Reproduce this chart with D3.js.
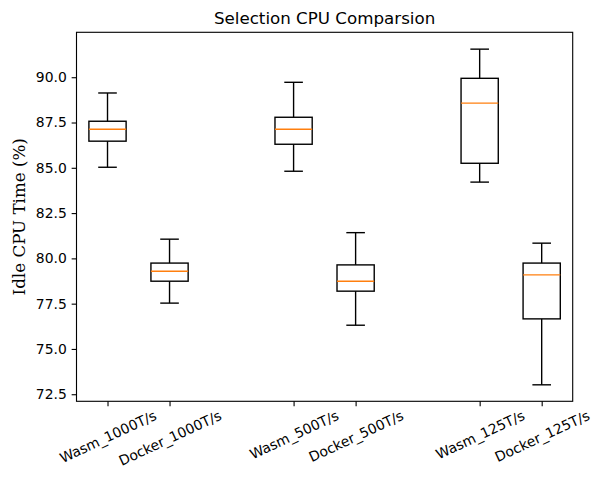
<!DOCTYPE html>
<html><head><meta charset="utf-8">
<script src="https://cdn.jsdelivr.net/npm/d3@7"></script>
<style>body{margin:0;background:#fff}svg{display:block}</style>
</head><body>
<svg id="chart" width="600" height="481"></svg>
<script>
const categories = ["Wasm_1000T/s","Docker_1000T/s","Wasm_500T/s","Docker_500T/s","Wasm_125T/s","Docker_125T/s"];
const positions = [1, 1.5, 2.5, 3, 4, 4.5];
const whiskerLow  = [85.03, 77.53, 84.81, 76.31, 84.21, 73.02];
const q1          = [86.47, 78.74, 86.30, 78.19, 85.25, 76.66];
const median      = [87.13, 79.29, 87.13, 78.74, 88.57, 79.09];
const q3          = [87.57, 79.74, 87.79, 79.64, 89.94, 79.74];
const whiskerHigh = [89.13, 81.06, 89.72, 81.42, 91.55, 80.84];
const yTicks = [72.5, 75.0, 77.5, 80.0, 82.5, 85.0, 87.5, 90.0];
const boxWidth = 0.3;

const svg = d3.select("#chart");
const L = 76.5, R = 572.7, T = 32.3, B = 401.3;
const x = d3.scaleLinear().domain([0.75, 4.75]).range([L, R]);
const y = d3.scaleLinear().domain([72.11, 92.48]).range([B, T]);
const tickLen = 4.86, pad = 4.86;
const sans = "DejaVu Sans, sans-serif";

const data = categories.map((c,i)=>({c, p:positions[i], lo:whiskerLow[i], q1:q1[i], med:median[i], q3:q3[i], hi:whiskerHigh[i]}));

const g = svg.append("g");
data.forEach(d=>{
  const cx = x(d.p), hw = x(d.p + boxWidth/2) - cx, cw = hw/2;
  const s = (x1,y1,x2,y2,col)=>g.append("line").attr("x1",x1).attr("y1",y1).attr("x2",x2).attr("y2",y2)
      .attr("stroke",col||"#000").attr("stroke-width",1.39).attr("stroke-linecap","butt");
  s(cx, y(d.q3), cx, y(d.hi));
  s(cx, y(d.q1), cx, y(d.lo));
  s(cx-cw, y(d.hi), cx+cw, y(d.hi));
  s(cx-cw, y(d.lo), cx+cw, y(d.lo));
  g.append("rect").attr("x",cx-hw).attr("y",y(d.q3)).attr("width",2*hw).attr("height",y(d.q1)-y(d.q3))
    .attr("fill","none").attr("stroke","#000").attr("stroke-width",1.39);
  s(cx-hw, y(d.med), cx+hw, y(d.med), "#ff7f0e");
});

svg.append("rect").attr("x",L).attr("y",T).attr("width",R-L).attr("height",B-T)
  .attr("fill","none").attr("stroke","#000").attr("stroke-width",1.11);

const yAxis = d3.axisLeft(y).tickValues(yTicks).tickFormat(d3.format(".1f")).tickSize(tickLen).tickPadding(pad);
const ya = svg.append("g").attr("transform",`translate(${L},0)`).call(yAxis);
ya.select(".domain").remove();
ya.selectAll(".tick line").attr("stroke","#000").attr("stroke-width",1.11);
ya.selectAll(".tick text").attr("font-family",sans).attr("font-size","13.9px").attr("fill","#000").attr("dy","0.32em");

const xAxis = d3.axisBottom(x).tickValues(positions).tickFormat((d,i)=>categories[i]).tickSize(tickLen).tickPadding(pad);
const xa = svg.append("g").attr("transform",`translate(0,${B})`).call(xAxis);
xa.select(".domain").remove();
xa.selectAll(".tick line").attr("stroke","#000").attr("stroke-width",1.11);
const ang = 25*Math.PI/180;
xa.selectAll(".tick text").each(function(){
  const t = d3.select(this);
  t.attr("font-family",sans).attr("font-size","13.9px").attr("fill","#000")
   .attr("text-anchor","middle").attr("dy",null).attr("y",null).attr("dominant-baseline","central");
  const w = this.getComputedTextLength(), h = 13.9*1.17;
  const hr = w*Math.sin(ang) + h*Math.cos(ang);
  const cy = tickLen + pad + hr/2 - 4;
  t.attr("transform",`translate(0,${cy}) rotate(-25)`);
});

svg.append("text").attr("x",(L+R)/2).attr("y",T-8.3).attr("text-anchor","middle")
  .attr("font-family",sans).attr("font-size","16.7px").attr("fill","#000").text("Selection CPU Comparsion");

svg.append("text").attr("transform",`translate(25,${(T+B)/2}) rotate(-90)`).attr("text-anchor","middle")
  .attr("font-family","DejaVu Serif, serif").attr("font-size","16.7px").attr("fill","#000")
  .text("Idle CPU Time (%)");
</script>
</body></html>
